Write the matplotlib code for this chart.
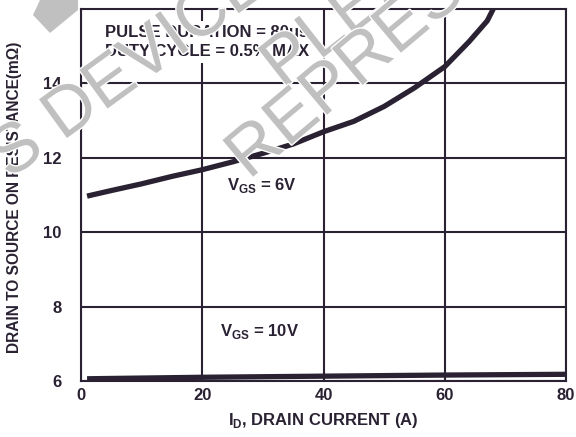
import matplotlib
matplotlib.use("Agg")
import matplotlib.pyplot as plt
import matplotlib.patheffects as pe
from matplotlib.patches import Polygon

plt.rcParams['font.family'] = ['Liberation Sans', 'DejaVu Sans']

# Data
id_6v = [1.0, 5, 10, 15, 20, 25, 30, 35, 40, 45, 50, 55, 60, 64, 67, 68.0]
rds_6v = [10.97, 11.12, 11.30, 11.50, 11.68, 11.89, 12.12, 12.37, 12.70, 12.98, 13.38, 13.88, 14.45, 15.12, 15.68, 16.0]
id_10v = [1.0, 20, 40, 60, 80]
rds_10v = [6.06, 6.10, 6.13, 6.16, 6.18]
x_ticks = [0, 20, 40, 60, 80]
y_ticks = [6, 8, 10, 12, 14]

ink = '#2a2233'

fig = plt.figure(figsize=(5.76, 4.37), dpi=100)
ax = fig.add_axes([81/576, 1-381/437, (566-81)/576, (381-9)/437])

ax.set_xlim(0, 80)
ax.set_ylim(6, 16)
ax.set_xticks(x_ticks)
ax.set_yticks(y_ticks)
ax.grid(True, color=ink, linewidth=1.5)
ax.tick_params(length=0, labelsize=12, colors=ink)
ax.tick_params(axis='y', pad=14)
ax.tick_params(axis='x', pad=5)
for lab in ax.get_xticklabels() + ax.get_yticklabels():
    lab.set_fontweight('bold')
for sp in ax.spines.values():
    sp.set_color(ink)
    sp.set_linewidth(1.5)

ax.plot(id_6v, rds_6v, color=ink, linewidth=3.8, solid_capstyle='butt', zorder=3)
ax.plot(id_10v, rds_10v, color=ink, linewidth=3.8, solid_capstyle='butt', zorder=3)

ax.set_xlabel('I$_\\mathregular{D}$, DRAIN CURRENT (A)', fontsize=12, fontweight='bold', color=ink, labelpad=6)
fig.text(15/576, 1-197/437, 'DRAIN TO SOURCE ON RESISTANCE(mΩ)', rotation=90, fontsize=11.2,
         fontweight='bold', color=ink, ha='center', va='center')

box = dict(facecolor='white', edgecolor='none', pad=3)
ax.text(4.0, 15.11, 'PULSE DURATION = 80μs\nDUTY CYCLE = 0.5% MAX', fontsize=12, fontweight='bold',
        color=ink, ha='left', va='center', linespacing=1.3, bbox=box, zorder=4)
ax.text(29.9, 11.26, 'V$_\\mathregular{GS}$ = 6V', fontsize=12, fontweight='bold', color=ink,
        ha='center', va='center', bbox=box, zorder=4)
ax.text(29.5, 7.33, 'V$_\\mathregular{GS}$ = 10V', fontsize=12, fontweight='bold', color=ink,
        ha='center', va='center', bbox=box, zorder=4)

# watermark
wcol = '#c0c0c0'
fig.patches.append(Polygon([(33/576, 1-15/437), (50/576, 1-33/437), (78/576, 1-10/437),
                            (78/576, 1.0), (40/576, 1.0)], closed=True,
                           transform=fig.transFigure, facecolor=wcol, edgecolor='none', zorder=10))
wm = dict(color=wcol, fontsize=50, ha='center', va='center', zorder=10,
          path_effects=[pe.withStroke(linewidth=2, foreground='white')])
fig.text(130/576, 1-70/437, 'S DEVICE', rotation=36, **wm)
fig.text(378/576, 1-(-8)/437, 'PLEASE', rotation=38, **wm)
fig.text(400/576, 1-30/437, 'REPRESENT', rotation=40, **wm)

fig.savefig('out.png', dpi=100)
